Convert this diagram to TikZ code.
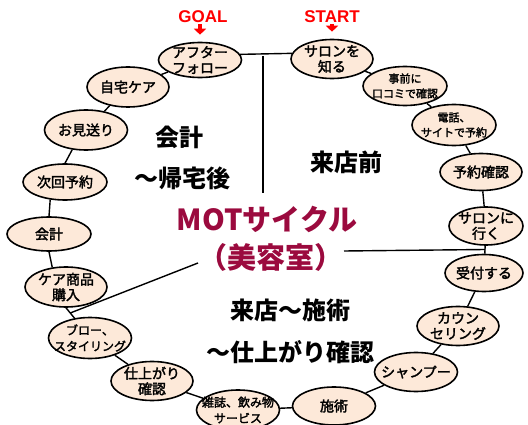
\documentclass[tikz,border=0pt]{standalone}
\usepackage{fontspec}
\setmainfont{Noto Sans CJK JP}
\newfontfamily\jpmed{Noto Sans CJK JP}[FakeBold=2.2]
\newfontfamily\latinbold{Liberation Sans}
\usetikzlibrary{shapes.geometric,calc,arrows.meta}
\definecolor{peach}{RGB}{253,233,217}
\definecolor{motred}{RGB}{155,10,62}
\definecolor{tipred}{RGB}{255,0,0}
\begin{document}
\begin{tikzpicture}[x=1pt,y=-1pt,
  ell/.style={ellipse,draw=black,line width=1.6pt,fill=peach,inner sep=0pt,minimum width=83pt,minimum height=39pt},
  lbl/.style={align=center,inner sep=0pt,font=\jpmed\fontsize{14}{15.5}\selectfont},
  lbls/.style={align=center,inner sep=0pt,font=\jpmed\fontsize{11}{15}\selectfont},
  lblm/.style={align=center,inner sep=0pt,font=\jpmed\fontsize{12}{16}\selectfont},
  conn/.style={line width=1.4pt,black},
  big/.style={font=\fontsize{24}{28}\selectfont\bfseries},
  mot/.style={font=\fontsize{29}{33}\selectfont\bfseries,text=motred},
  tag/.style={font=\latinbold\fontsize{17}{19}\selectfont\bfseries,text=tipred,inner sep=0pt},
  redarrow/.style={tipred,line width=4.5pt,-{Triangle[width=12pt,length=6pt]}}
]
\useasboundingbox (0,0) rectangle (528,425);

% ellipses
\node[ell,minimum width=82pt,minimum height=39pt,label={[lbl]center:サロンを\\知る}] (n1) at (332,59) {};
\node[ell,minimum width=84pt,minimum height=39pt,label={[lbls]center:事前に\\口コミで確認}] (n2) at (405,86) {};
\node[ell,minimum width=84pt,minimum height=41pt,label={[lbls]center:電話、\\サイトで予約}] (n3) at (454,125) {};
\node[ell,minimum width=82pt,minimum height=37pt,label={[lbl]center:予約確認}] (n4) at (481,172) {};
\node[ell,minimum width=74pt,minimum height=38pt,label={[lbl]center:サロンに\\行く}] (n5) at (486,226) {};
\node[ell,minimum width=78pt,minimum height=37pt,label={[lbl]center:受付する}] (n6) at (484,273) {};
\node[ell,minimum width=82pt,minimum height=39pt,label={[lbl]center:カウン\\セリング}] (n7) at (458,326) {};
\node[ell,minimum width=83pt,minimum height=39pt,label={[lbl]center:シャンプー}] (n8) at (416,372) {};
\node[ell,minimum width=83pt,minimum height=38pt,label={[lbl]center:施術}] (n9) at (334,406) {};
\node[ell,minimum width=83pt,minimum height=40pt,label={[lblm]center:雑誌、飲み物\\サービス}] (n10) at (238,410) {};
\node[ell,minimum width=82pt,minimum height=39pt,label={[lbl]center:仕上がり\\確認}] (n11) at (152,381) {};
\node[ell,minimum width=83pt,minimum height=41pt,label={[lblm]center:ブロー、\\スタイリング}] (n12) at (90,338) {};
\node[ell,minimum width=82pt,minimum height=40pt,label={[lbl]center:ケア商品\\購入}] (n13) at (66,287) {};
\node[ell,minimum width=84pt,minimum height=34pt,label={[lbl]center:会計}] (n14) at (49,234) {};
\node[ell,minimum width=84pt,minimum height=36pt,label={[lbl]center:次回予約}] (n15) at (65,182) {};
\node[ell,minimum width=83pt,minimum height=40pt,label={[lbl]center:お見送り}] (n16) at (86,130) {};
\node[ell,minimum width=82pt,minimum height=40pt,label={[lbl]center:自宅ケア}] (n17) at (128,87) {};
\node[ell,minimum width=83pt,minimum height=35pt,label={[lbl]center:アフター\\フォロー}] (n18) at (200,60) {};

% connectors
\draw[conn] (n1) -- (n2);
\draw[conn] (n2) -- (n3);
\draw[conn] (n3) -- (n4);
\draw[conn] (n4) -- (n5);
\draw[conn] (n5) -- (n6);
\draw[conn] (n6) -- (n7);
\draw[conn] (n7) -- (n8);
\draw[conn] (n8) -- (n9);
\draw[conn] (n9) -- (n10);
\draw[conn] (n10) -- (n11);
\draw[conn] (n11) -- (n12);
\draw[conn] (n13.south) -- (n12.128);
\draw[conn] (n14.south) -- (n13.125);
\draw[conn] (n15.230) -- (n14.north);
\draw[conn] (n16.235) -- (n15.north);
\draw[conn] (n16) -- (n17);
\draw[conn] (n17) -- (n18);

% dividing lines
\draw[conn] (n18.8) -- (n1.172);
\coordinate (vtop) at (263,56);
\coordinate (vbot) at (263,193);
\draw[conn] (vtop) -- (vbot);
\coordinate (jr) at ($(n5)!0.5!(n6)$);
\coordinate (mr) at (344,251);
\draw[conn] (mr) -- (jr);
\coordinate (jl) at ($(n13.south)!0.5!(n12.128)$);
\coordinate (ml) at (198,263);
\draw[conn] (ml) -- (jl);

% texts
\node[big] (t1) at (179,137) {会計};
\node[big] (t2) at (182,178) {〜帰宅後};
\node[big] (t3) at (346,162) {来店前};
\node[big] (t4) at (290,310) {来店〜施術};
\node[big] (t5) at (290,352) {〜仕上がり確認};
\node[mot] (m1) at (267,219) {MOTサイクル};
\node[mot] (m2) at (271,257) {（美容室）};

% goal / start
\node[tag] (goal) at (203,17) {GOAL};
\node[tag] (start) at (332,17) {START};
\draw[redarrow,shorten <=1pt,shorten >=7pt] (goal.south -| n18.north) -- (n18.north);
\draw[redarrow,shorten <=1pt,shorten >=7pt] (start.south -| n1.north) -- (n1.north);
\end{tikzpicture}
\end{document}
